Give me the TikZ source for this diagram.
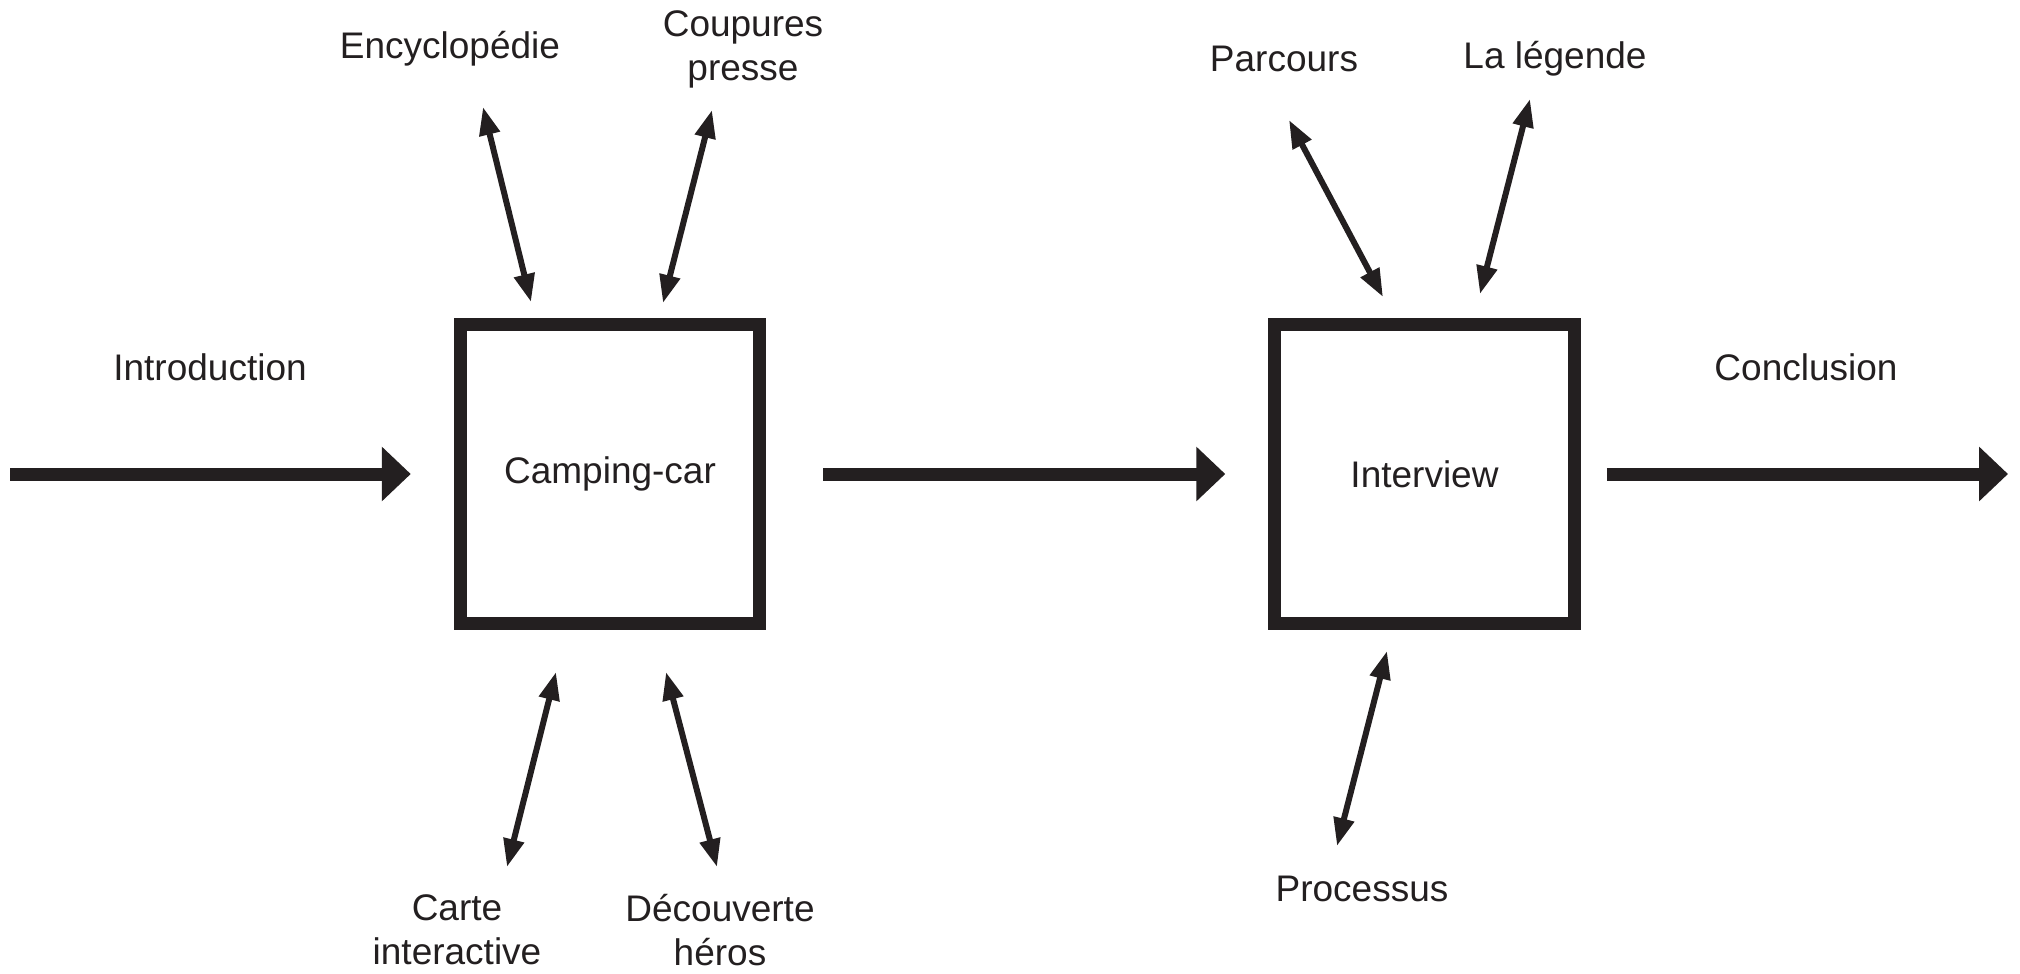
\documentclass[tikz,border=0pt]{standalone}
\usepackage{fontspec}
\setmainfont{Liberation Sans}
\usetikzlibrary{arrows.meta}
\definecolor{ink}{RGB}{35,31,32}
\tikzstyle{station} = [rectangle, draw=ink, line width=6.5pt, minimum width=149.75pt, minimum height=149.75pt, inner sep=0pt, text=ink, font=\fontsize{18.5}{22}\selectfont]
\tikzstyle{topic} = [text=ink, align=center, inner sep=0pt, font=\fontsize{18.5}{22}\selectfont]
\tikzstyle{flow} = [line width=6.5pt, draw=ink, -{Triangle[length=14.5pt, width=26.5pt]}]
\tikzstyle{link} = [line width=3pt, draw=ink, {Triangle[length=14pt, width=10pt]}-{Triangle[length=14pt, width=10pt]}]

\begin{document}
\begin{tikzpicture}[x=0.5pt, y=-0.5pt]
        \useasboundingbox (0,0) rectangle (2020,974);
        % Nodes
        \node (camper) [station] at (610,474) {Camping-car};
        \node (interview) [station] at (1424.5,474) {Interview};
        \node (intro) [topic] at (210,367) {Introduction};
        \node (concl) [topic] at (1806,367) {Conclusion};
        \node (encyclo) [topic] at (450,49) {Encyclopédie};
        \node (press) [topic] at (743,49) {Coupures\\presse};
        \node (route) [topic] at (1284,59) {Parcours};
        \node (legend) [topic] at (1555,59) {La légende};
        \node (map) [topic] at (457,930) {Carte\\interactive};
        \node (heroes) [topic] at (720,930) {Découverte\\héros};
        \node (process) [topic] at (1362,889) {Processus};

        % Arrow ends
        \coordinate (start) at (10,474);
        \coordinate (finish) at (2008,474);
        \coordinate (encyclo-a) at (483,107);
        \coordinate (encyclo-b) at (531,302);
        \coordinate (press-a) at (712,110);
        \coordinate (press-b) at (663,303);
        \coordinate (route-a) at (1289,120);
        \coordinate (route-b) at (1383,297);
        \coordinate (legend-a) at (1530,99);
        \coordinate (legend-b) at (1480,294);
        \coordinate (map-a) at (556,672);
        \coordinate (map-b) at (507,867);
        \coordinate (heroes-a) at (666,672);
        \coordinate (heroes-b) at (717,867);
        \coordinate (process-a) at (1387,651);
        \coordinate (process-b) at (1337,846);

        % Arrows
        \draw [flow, shorten >=21.5pt] (start) -- (camper);
        \draw [flow, shorten <=28.5pt, shorten >=21.5pt] (camper) -- (interview);
        \draw [flow, shorten <=13pt] (interview) -- (finish);
        \draw [link] (encyclo-a) -- (encyclo-b);
        \draw [link] (press-a) -- (press-b);
        \draw [link] (route-a) -- (route-b);
        \draw [link] (legend-a) -- (legend-b);
        \draw [link] (map-a) -- (map-b);
        \draw [link] (heroes-a) -- (heroes-b);
        \draw [link] (process-a) -- (process-b);
    \end{tikzpicture}
\end{document}
